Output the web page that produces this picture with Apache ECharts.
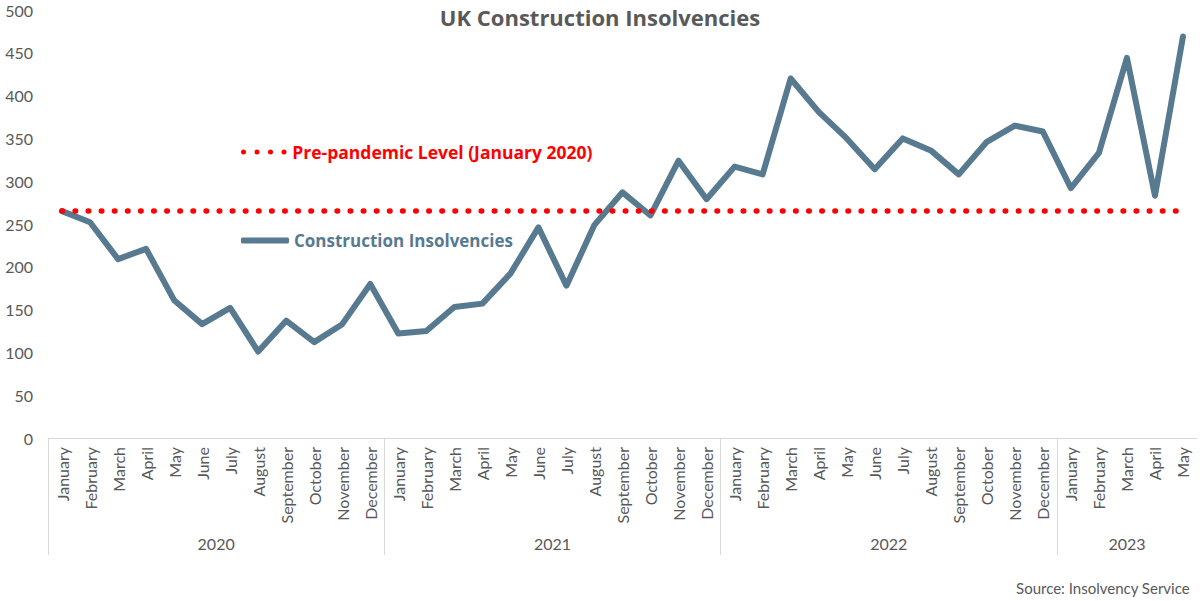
<!DOCTYPE html>
<html>
<head>
<meta charset="utf-8">
<script src="https://cdn.jsdelivr.net/npm/echarts@6/dist/echarts.min.js"></script>
<style>html,body{margin:0;padding:0;background:#fff}#c{width:1200px;height:601px}</style>
</head>
<body>
<div id="c"></div>
<script>
const monthNames = ['January','February','March','April','May','June','July','August','September','October','November','December'];
const yearNames = ['2020','2021','2022','2023'];
const monthsPerYear = [12, 12, 12, 5];
const insolvencies = [265,252,209,221,161,133,152,101,137,112,133,180,
                      122,125,153,157,192,246,178,249,287,260,324,279,
                      317,308,420,381,350,314,350,336,308,346,365,358,
                      292,333,444,283,469];
const prePandemicLevel = 265;
const yTicks = [0,50,100,150,200,250,300,350,400,450,500];

const categories = [];
const yearStarts = [];
const yearCenters = [];
let idx = 0;
monthsPerYear.forEach((n, i) => {
  yearStarts.push(idx);
  yearCenters.push(idx + n / 2);
  for (let m = 0; m < n; m++) categories.push(monthNames[m]);
  idx += n;
});

const FONT = 'Lato';
const BOLDFONT = 'Open Sans';
const GREY = '#595959';
const BLUE = '#587A91';
const RED = '#FF0000';

const chart = echarts.init(document.getElementById('c'), null, {renderer: 'svg'});
chart.setOption({
  animation: false,
  title: [
    {text: 'UK Construction Insolvencies', left: 'center', top: 1,
     textStyle: {fontFamily: BOLDFONT, fontSize: 22, fontWeight: 'bold', color: GREY}},
    {text: 'Source: Insolvency Service', right: 5, top: 575,
     textStyle: {fontFamily: FONT, fontSize: 15, fontWeight: 'normal', color: GREY}}
  ],
  legend: [
    {data: ['Pre-pandemic Level (January 2020)'], left: 236, top: 138, itemWidth: 47, itemHeight: 5,
     icon: 'path://M0,2.5a2.5,2.5 0 1,0 5,0a2.5,2.5 0 1,0 -5,0M13.5,2.5a2.5,2.5 0 1,0 5,0a2.5,2.5 0 1,0 -5,0M27,2.5a2.5,2.5 0 1,0 5,0a2.5,2.5 0 1,0 -5,0M40.5,2.5a2.5,2.5 0 1,0 5,0a2.5,2.5 0 1,0 -5,0',
     textStyle: {fontFamily: BOLDFONT, fontSize: 17.5, fontWeight: 'bold', color: RED}},
    {data: ['Construction Insolvencies'], left: 236, top: 227, itemWidth: 48, itemHeight: 6,
     icon: 'roundRect',
     textStyle: {fontFamily: BOLDFONT, fontSize: 17, fontWeight: 'bold', color: BLUE}}
  ],
  grid: {left: 48, right: 3, top: 10, bottom: 163, containLabel: false},
  xAxis: [
    {type: 'category', data: categories, boundaryGap: true,
     axisLine: {show: true, lineStyle: {color: '#D9D9D9', width: 1}},
     axisTick: {show: false},
     axisLabel: {rotate: 90, interval: 0, margin: 9, fontFamily: FONT, fontSize: 16, color: GREY}},
    {type: 'value', min: 0, max: categories.length, position: 'bottom',
     axisLine: {show: false},
     splitLine: {show: false},
     axisTick: {show: true, customValues: yearStarts, length: 117, lineStyle: {color: '#D9D9D9', width: 1}},
     axisLabel: {customValues: yearCenters, margin: 97, fontFamily: FONT, fontSize: 16, color: GREY,
       formatter: v => yearNames[yearCenters.indexOf(v)]}}
  ],
  yAxis: {type: 'value', min: yTicks[0], max: yTicks[yTicks.length - 1], interval: 50,
    axisLine: {show: false}, axisTick: {show: false}, splitLine: {show: false},
    axisLabel: {margin: 15, fontFamily: FONT, fontSize: 16, color: GREY}},
  series: [
    {name: 'Pre-pandemic Level (January 2020)', type: 'line', data: [], color: RED,
     lineStyle: {color: RED, width: 5, type: [1, 12.1], cap: 'round'},
     markLine: {silent: true, symbol: 'none', label: {show: false},
       lineStyle: {color: RED, width: 5.5, type: [0.5, 12.6], cap: 'round'},
       data: [[{coord: [0, prePandemicLevel]}, {coord: [categories.length - 1, prePandemicLevel]}]]}},
    {name: 'Construction Insolvencies', type: 'line', data: insolvencies, color: BLUE,
     showSymbol: false, symbol: 'none',
     lineStyle: {color: BLUE, width: 6, cap: 'round', join: 'round'}, z: 3}
  ]
});
</script>
</body>
</html>
